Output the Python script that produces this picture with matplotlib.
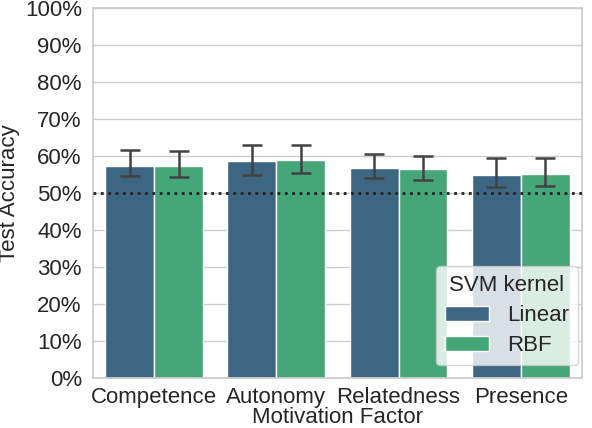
import numpy as np
import matplotlib
matplotlib.use("Agg")
from matplotlib import pyplot as plt
from matplotlib.ticker import PercentFormatter
import seaborn as sns

factors = ["Competence", "Autonomy", "Relatedness", "Presence"]
kernels = ["Linear", "RBF"]
# mean accuracy (%) and error bar bounds per kernel
acc_linear = [57.3, 58.6, 56.9, 54.8]
low_linear = [54.6, 55.0, 54.0, 51.6]
high_linear = [61.6, 63.1, 60.6, 59.5]
acc_rbf = [57.3, 58.8, 56.4, 55.1]
low_rbf = [54.3, 55.5, 53.5, 52.0]
high_rbf = [61.4, 63.1, 60.1, 59.5]
chance = 50

sns.set_theme(style="whitegrid")
plt.rcParams['font.family'] = ['Liberation Sans', 'DejaVu Sans']

colors = sns.color_palette("viridis", 2)
colors = [sns.desaturate(c, 0.75) for c in colors]

fig, ax = plt.subplots(figsize=(5.92, 4.28), dpi=100)

x = np.arange(len(factors))
w = 0.4
series = [(acc_linear, low_linear, high_linear), (acc_rbf, low_rbf, high_rbf)]
for i, (acc, lo, hi) in enumerate(series):
    pos = x - w / 2 + i * w
    acc = np.array(acc)
    yerr = [acc - np.array(lo), np.array(hi) - acc]
    ax.bar(pos, acc, width=w, color=colors[i], edgecolor="white", linewidth=1,
           label=kernels[i], zorder=2)
    ax.errorbar(pos, acc, yerr=yerr, fmt="none", ecolor=".26", elinewidth=1.8,
                capsize=7, capthick=1.8, zorder=3)

ax.axhline(chance, color="#222222", linestyle=":", linewidth=2, zorder=4)

ax.set_xlim(-0.5, len(factors) - 0.5)
ax.set_ylim(0, 100)
ax.set_yticks(range(0, 101, 10))
ax.yaxis.set_major_formatter(PercentFormatter(decimals=0))
ax.set_xticks(x)
ax.set_xticklabels(factors)
ax.tick_params(labelsize=16, pad=2)
ax.tick_params(axis="x", pad=0.5)
ax.set_xlabel("Motivation Factor", fontsize=16, labelpad=-0.5)
ax.set_ylabel("Test Accuracy", fontsize=16)
ax.yaxis.set_label_coords(-0.150, 0.5)
ax.xaxis.grid(False)

leg = ax.legend(title="SVM kernel", loc="lower right", fontsize=16,
                title_fontsize=16, framealpha=0.8, labelspacing=0.4,
                bbox_to_anchor=(0.992, 0.035), borderaxespad=0)

fig.subplots_adjust(left=0.157, right=0.983, top=0.981, bottom=0.117)
fig.savefig("out.png", dpi=100)
